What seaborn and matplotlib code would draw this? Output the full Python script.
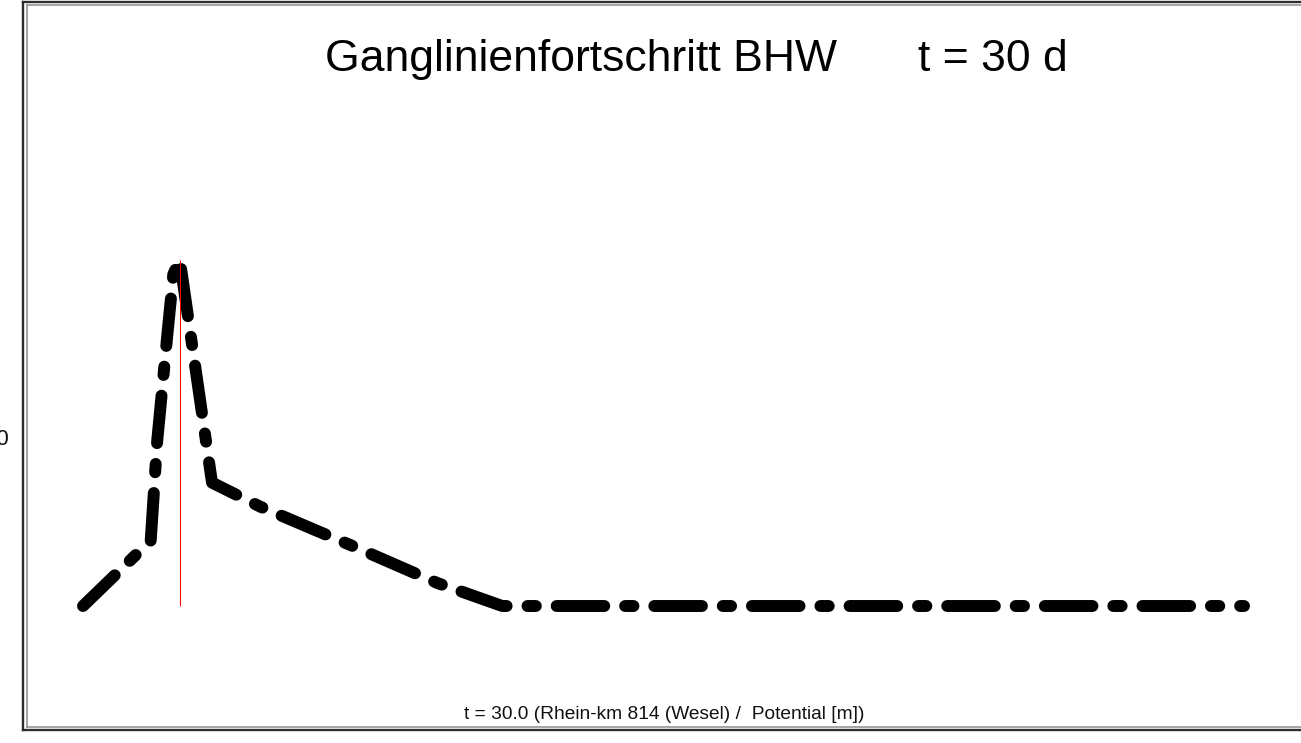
import matplotlib
matplotlib.use("Agg")
import matplotlib.pyplot as plt
from matplotlib.lines import Line2D
import seaborn as sns
import pandas as pd

# Hydrograph at Rhein-km 814 (Wesel): time in days, potential in m
days = [0, 21, 23, 26, 28, 30, 40, 55, 83, 110, 130, 360]
potential = [16.0, 17.55, 19.9, 22.3, 23.85, 24.2, 18.92, 18.35, 17.44, 16.54, 16.0, 16.0]
t_now = 30.0
ytick_values = [20]
ytick_labels = ["20"]

title_left = "Ganglinienfortschritt BHW"
title_right = "t = 30 d"
footer = "t = 30.0 (Rhein-km 814 (Wesel) /  Potential [m])"

sns.set_theme(style="white")
plt.rcParams["font.family"] = ["Liberation Sans", "DejaVu Sans"]
plt.rcParams["lines.scale_dashes"] = False

W, H = 1301, 743
fig = plt.figure(figsize=(W / 100, H / 100), dpi=100)
fig.patch.set_facecolor("white")

ax_left_px = 22
ax = fig.add_axes([ax_left_px / W, 0, 1 - ax_left_px / W, 1])
ax.set_facecolor("none")

df = pd.DataFrame({"t": days, "h": potential})
sns.lineplot(data=df, x="t", y="h", ax=ax, color="black", linewidth=8.6,
             linestyle=(2.5, (34.3, 15.0, 6.0, 15.0)),
             dash_capstyle="round", dash_joinstyle="round", zorder=2)

# cursor at the current time step
ax.vlines(t_now, min(potential), max(potential), color="red", linewidth=0.75, zorder=3)

# px -> data scales
px_per_day = 3.225
x0_px = 83
px_per_m = 42.25
base_px = 606
base_val = 16.0
ax.set_xlim((ax_left_px - x0_px) / px_per_day, (W - x0_px) / px_per_day)
ax.set_ylim(base_val - (H - base_px) / px_per_m, base_val + base_px / px_per_m)

ax.set_xticks([])
ax.set_yticks(ytick_values)
ax.set_yticklabels(ytick_labels, fontsize=16, color="#111111")
ax.tick_params(axis="y", length=0, pad=9.0)
ax.set_xlabel("")
ax.set_ylabel("")
for s in ax.spines.values():
    s.set_visible(False)


def fx(px):
    return px / W


def fy(py):
    return 1 - py / H


# double frame
outer = dict(color="#2e2e2e", linewidth=1.7, solid_capstyle="projecting")
inner = dict(color="#8c8c8c", linewidth=1.1, solid_capstyle="projecting")
fig.add_artist(Line2D([fx(23.3), fx(23.3)], [fy(2.0), fy(729.8)], **outer))
fig.add_artist(Line2D([fx(23.3), fx(1310)], [fy(2.0), fy(2.0)], **outer))
fig.add_artist(Line2D([fx(23.3), fx(1310)], [fy(729.8), fy(729.8)], **outer))
fig.add_artist(Line2D([fx(26.5), fx(26.5)], [fy(4.6), fy(726.6)], **inner))
fig.add_artist(Line2D([fx(26.5), fx(1310)], [fy(4.6), fy(4.6)], **inner))
fig.add_artist(Line2D([fx(26.5), fx(1310)], [fy(726.6), fy(726.6)], **inner))

fig.text(fx(325), fy(71), title_left, fontsize=32, ha="left", va="baseline", color="black")
fig.text(fx(918), fy(71), title_right, fontsize=32, ha="left", va="baseline", color="black")
fig.text(fx(664), fy(719), footer, fontsize=13.8, ha="center", va="baseline", color="#111111")

fig.savefig("out.png", dpi=100, facecolor="white")
